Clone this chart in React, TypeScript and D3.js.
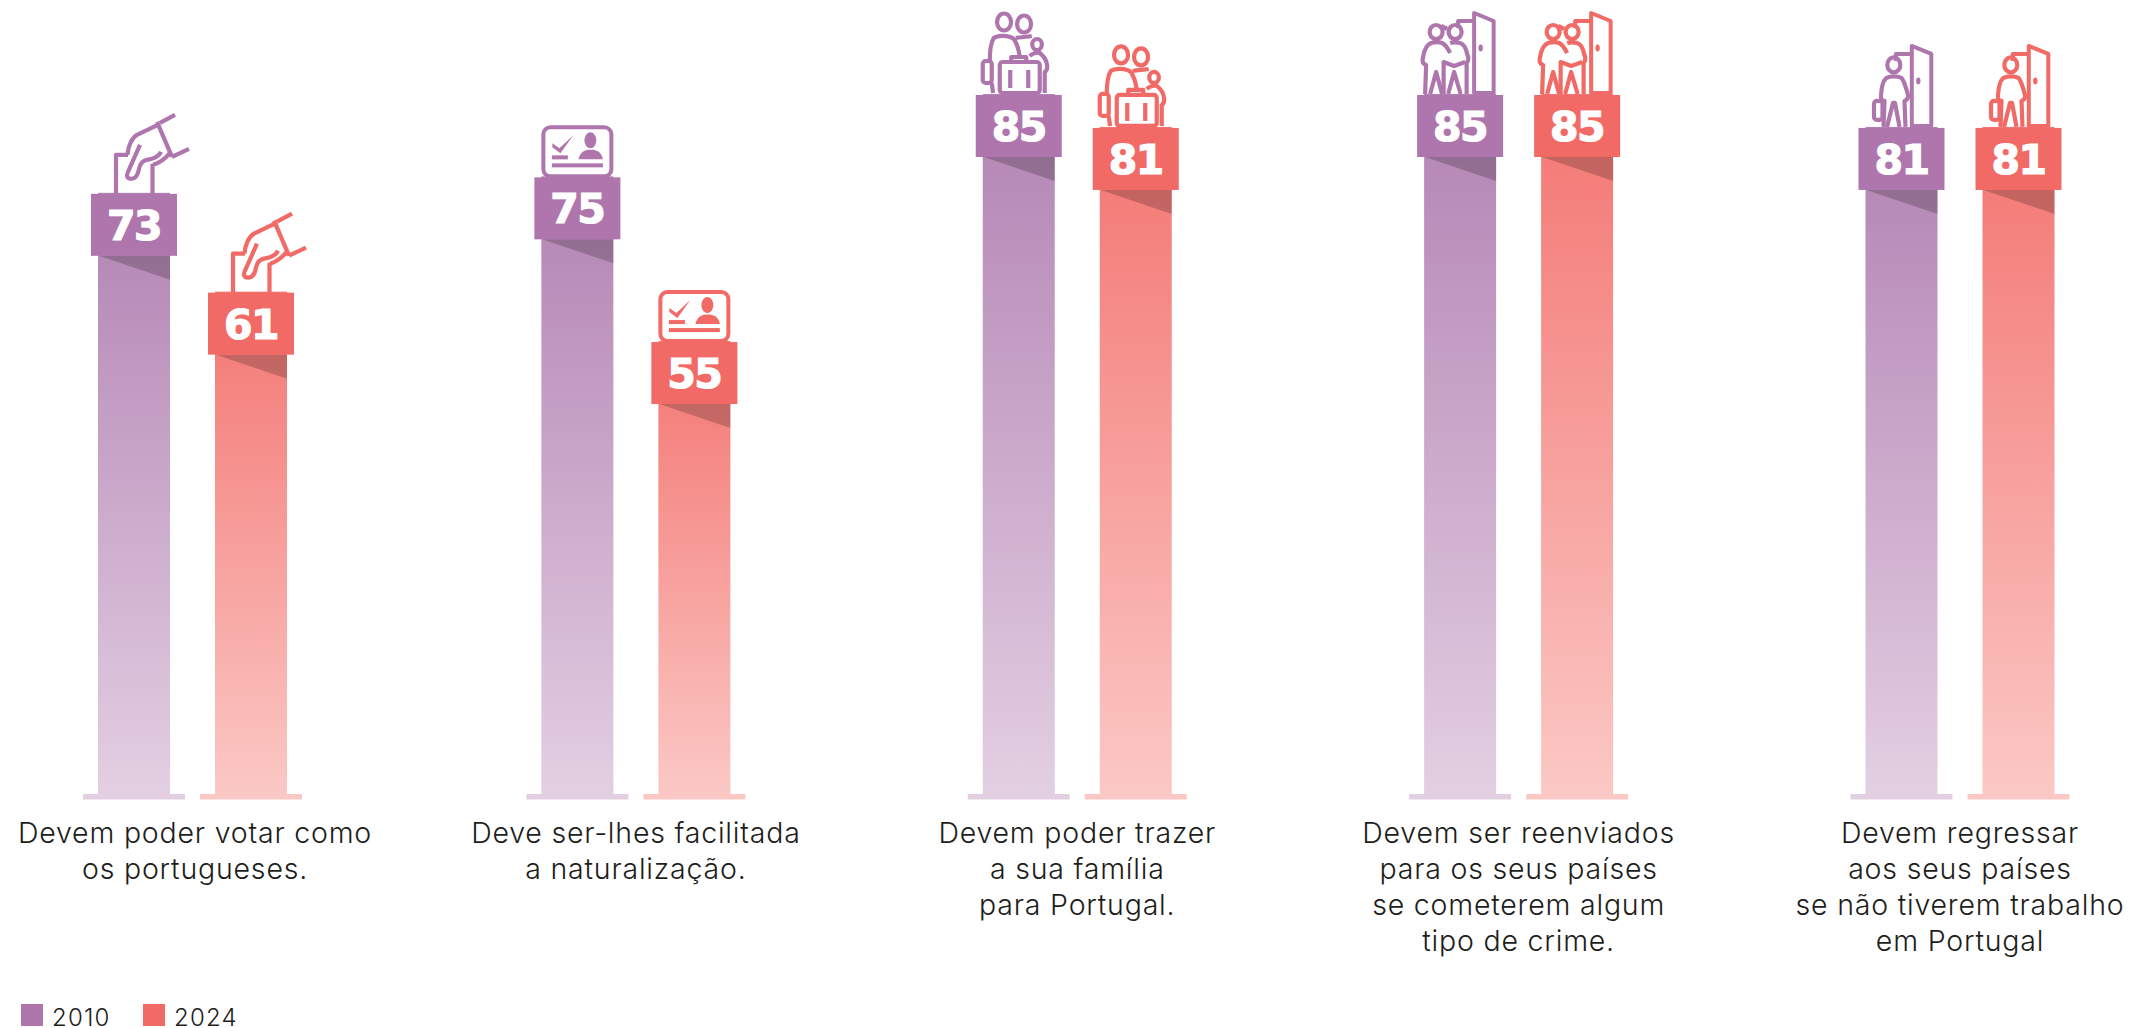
import React from "react";
import * as d3 from "d3";

const years = ["2010", "2024"];
const questions = ["votar", "naturalizacao", "familia", "crime", "trabalho"];
const values2010 = [73, 75, 85, 85, 81];
const values2024 = [61, 55, 81, 85, 81];
const captions = [
  ["Devem poder votar como", "os portugueses."],
  ["Deve ser-lhes facilitada", "a naturalização."],
  ["Devem poder trazer", "a sua família", "para Portugal."],
  ["Devem ser reenviados", "para os seus países", "se cometerem algum", "tipo de crime."],
  ["Devem regressar", "aos seus países", "se não tiverem trabalho", "em Portugal"],
];
const colors = ["#ae76ad", "#f16a66"];
const topColors = ["#b282b3", "#f37571"];
const paleColors = ["#e3cfe2", "#fbc8c5"];

const width = 2135;
const height = 1028;
const barW = 72;
const boxW = 86;
const boxH = 62;

const x0 = d3.scalePoint<string>().domain(questions).range([194.5, 1960]);
const x1 = d3.scalePoint<string>().domain(years).range([-58.5, 58.5]);
const y = d3.scaleLinear().domain([0, 85]).range([795, 95]);

// icons are drawn around (0,0) = middle of the top edge of the value box
function HandIcon({ c }: { c: string }) {
  return (
    <g fill="none" stroke={c} strokeWidth={4.2} strokeLinejoin="round">
      <path d="M-18,0 V-39 H-6 M18.5,0 V-30" />
      <path d="M-6.5,-39 C-6,-48 -2,-56 3,-59 L26,-70" />
      <path d="M23,-72 L38,-37 M26,-71 L41,-79 M38,-37 L55,-45" />
      <path d="M36,-41 C31,-35 26,-31 19,-29" />
      <path d="M27,-42 C25,-37 20,-35 13,-34 C8,-33 6,-30 5,-25 C4,-19 2,-15 -3,-15 C-7,-15 -8,-18 -6,-22 L6,-49" />
    </g>
  );
}

function CardIcon({ c }: { c: string }) {
  return (
    <g>
      <rect x={-34} y={-50} width={68} height={49} rx={7} fill="none" stroke={c} strokeWidth={4} />
      <path d="M-25,-34 L-18,-29 L-4,-42 L-17,-24 L-25,-30 Z" fill={c} />
      <rect x={-25.5} y={-22} width={16} height={4} fill={c} />
      <rect x={-25.5} y={-14} width={51} height={4} fill={c} />
      <ellipse cx={13} cy={-37} rx={6} ry={8} fill={c} />
      <path d="M1,-18 C3,-26 8,-27.5 13,-27.5 C19,-27.5 24,-26 25.5,-18 Z" fill={c} />
    </g>
  );
}

function FamilyIcon({ c }: { c: string }) {
  return (
    <g fill="none" stroke={c} strokeWidth={4.2} strokeLinejoin="round">
      <ellipse cx={-14.7} cy={-73} rx={7} ry={8.5} />
      <ellipse cx={5.3} cy={-71} rx={7} ry={8.5} />
      <ellipse cx={18.3} cy={-50.5} rx={4.8} ry={5.5} />
      <path d="M-25.7,-2 L-27,-12 M-29,-34 C-29,-42 -28,-52 -25,-57 C-21,-60 -10,-60 -5,-56 C-2,-52 0,-46 1,-38" />
      <path d="M-3,-57 C2,-58 8,-58 13,-59" />
      <path d="M11,-39 C14,-42 19,-43 21,-42 C25,-39 28,-34 28.5,-29 C28.5,-26 27.5,-24 26,-23 V-2" />
      <rect x={-36} y={-34} width={9} height={22} rx={3} />
      <rect x={-19} y={-33} width={40} height={31} rx={3} />
      <path d="M-7.5,-33 V-38 H7.5 V-33" />
      <path d="M-8.5,-25 V-7 M9.5,-25 V-7" />
    </g>
  );
}

function Door({ dx, c }: { dx: number; c: string }) {
  return (
    <g transform={`translate(${dx},0)`}>
      <path
        d="M0,-2 V-82 L19.5,-74 V-2 Z M0,-74 H-16 V-67"
        fill="none"
        stroke={c}
        strokeWidth={4}
        strokeLinejoin="round"
      />
      <ellipse cx={6.5} cy={-47} rx={2.2} ry={3.4} fill={c} />
    </g>
  );
}

function CoupleDoorIcon({ c }: { c: string }) {
  return (
    <g>
      <Door dx={14} c={c} />
      <g fill="none" stroke={c} strokeWidth={4.2} strokeLinejoin="round">
        <ellipse cx={-24} cy={-63} rx={6.5} ry={7} />
        <ellipse cx={-5} cy={-63} rx={6.5} ry={7} />
        <path d="M-19,-69 L-13,-66 M0,-69 L-2,-69" />
        <path d="M-35,-1 L-34,-30 C-38,-31 -38,-35 -37,-38 C-36,-45 -34,-50 -29,-52 C-25,-53 -21,-53 -18,-52 C-14,-50 -12,-46 -10,-42" />
        <path d="M-30,-1 L-24,-23 L-18,-1" />
        <path d="M-16.5,-1 V-33 L-6,-29 L5,-33" />
        <path d="M-12,-1 L-6,-23 L0.5,-1" />
        <path d="M6.5,-1 V-32 C9,-35 8,-39 7,-41 C6,-46 4,-51 0,-52 C-4,-53 -7,-53 -10,-52" />
      </g>
    </g>
  );
}

function PersonDoorIcon({ c }: { c: string }) {
  return (
    <g>
      <Door dx={10.3} c={c} />
      <g fill="none" stroke={c} strokeWidth={4.2} strokeLinejoin="round">
        <ellipse cx={-7.7} cy={-63} rx={6.5} ry={7.5} />
        <path d="M-18,-1 L-17,-27 C-20,-27 -21,-30 -20.5,-33 C-20,-40 -19,-47 -15,-50 C-11,-52 -4,-52 0,-50 C3,-47 5,-38 6.5,-33 C7,-30 6,-28 3,-27 L4,-1" />
        <path d="M-14.5,-1 L-8.5,-25 H-6.5 L-2,-1" />
        <rect x={-27.5} y={-27} width={8.5} height={19} rx={3} />
      </g>
    </g>
  );
}

function Icon({ name, c }: { name: string; c: string }) {
  if (name === "votar") return <HandIcon c={c} />;
  if (name === "naturalizacao") return <CardIcon c={c} />;
  if (name === "familia") return <FamilyIcon c={c} />;
  if (name === "crime") return <CoupleDoorIcon c={c} />;
  return <PersonDoorIcon c={c} />;
}

export default function App() {
  const series = [values2010, values2024];
  return (
    <svg
      width={width}
      height={height}
      style={{ position: "absolute", left: 0, top: 0, background: "#fff" }}
    >
      <defs>
        {years.map((yr, i) => (
          <linearGradient key={yr} id={"bar" + yr} x1={0} x2={0} y1={0} y2={1}>
            <stop offset="0" stopColor={topColors[i]} />
            <stop offset="1" stopColor={paleColors[i]} />
          </linearGradient>
        ))}
      </defs>
      {questions.map((q, gi) => (
        // first group sits a little closer to the left than the even spacing
        <g key={q} transform={`translate(${x0(q)! - (gi === 0 ? 2 : 0)},0)`}>
          {years.map((yr, si) => {
            const v = series[si][gi];
            const cx = x1(yr)!;
            const top = y(v);
            const boxBottom = top + boxH;
            return (
              <g key={yr}>
                <rect x={cx - barW / 2} y={top - 1} width={barW} height={y(0) - top + 1} fill={`url(#bar${yr})`} />
                <rect x={cx - 51} y={y(0) - 1} width={102} height={5.5} fill={paleColors[si]} />
                <path
                  d={`M${cx - barW / 2 + 1},${boxBottom} H${cx + barW / 2} V${boxBottom + 24} Z`}
                  fill="#000"
                  opacity={0.2}
                />
                <rect x={cx - boxW / 2} y={top} width={boxW} height={boxH} fill={colors[si]} />
                <text
                  x={cx}
                  y={top + 46}
                  textAnchor="middle"
                  fill="#fff"
                  stroke="#fff"
                  strokeWidth={1.2}
                  fontFamily="DejaVu Sans"
                  fontWeight={700}
                  fontSize={41}
                  letterSpacing={-1.5}
                >
                  {v}
                </text>
                <g transform={`translate(${cx},${top})`}>
                  <Icon name={q} c={colors[si]} />
                </g>
              </g>
            );
          })}
          <text
            textAnchor="middle"
            fontFamily="Inter"
            fontWeight={350}
            fontSize={28.5}
            fill="#1d1d1b"
            letterSpacing={0.8}
          >
            {captions[gi].map((line, li) => (
              <tspan key={li} x={gi === 0 ? 2.5 : 0} y={843 + li * 36}>
                {line}
              </tspan>
            ))}
          </text>
        </g>
      ))}
      {years.map((yr, i) => (
        <g key={yr} transform={`translate(${21 + i * 122},1004)`}>
          <rect width={22} height={22} fill={colors[i]} />
          <text x={31} y={22} fontFamily="Inter" fontWeight={350} fontSize={24} letterSpacing={1.2} fill="#1d1d1b">
            {yr}
          </text>
        </g>
      ))}
    </svg>
  );
}
